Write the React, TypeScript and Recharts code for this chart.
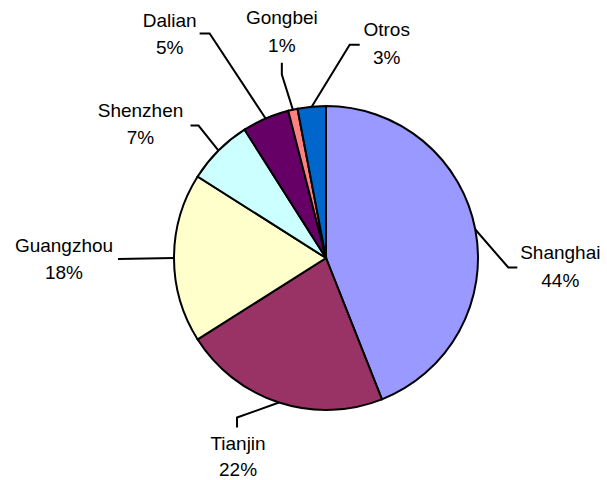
import { PieChart, Pie, Cell } from 'recharts';

// cuota por puerto, en %, en sentido horario desde las 12
const PORTS = ['Shanghai', 'Tianjin', 'Guangzhou', 'Shenzhen', 'Dalian', 'Gongbei', 'Otros'];
const SHARES = [44, 22, 18, 7, 5, 1, 3];

const COLORS = ['#9999ff', '#993366', '#ffffcc', '#ccffff', '#660066', '#ff8080', '#0066cc'];

// leader line: elbow, end and label centre, relative to where the slice edge is
const LEADERS = [
  { elbow: [33, 38], end: [42, 38], text: [85, 23], gap: 28 },
  { elbow: [-42, 15], end: [-42, 25], text: [-41, 41], gap: 26 },
  { elbow: [-56, 1], end: [-56, 1], text: [-110, -13], gap: 27 },
  { elbow: [-20, -25], end: [-28, -25], text: [-78, -40], gap: 27 },
  { elbow: [-56, -85], end: [-66, -85], text: [-96, -98], gap: 27 },
  { elbow: [-11, -35], end: [-11, -47], text: [-11, -92], gap: 28 },
  { elbow: [38, -62], end: [48, -62], text: [75, -77], gap: 28 },
];

const data = PORTS.map((name, i) => ({ name, value: SHARES[i] }));

const RADIAN = Math.PI / 180;
const FONT = '"Liberation Sans", Arial, sans-serif';

function renderLabel(props: any) {
  const { cx, cy, midAngle, outerRadius, index, name, value } = props;
  const ex = cx + outerRadius * Math.cos(-midAngle * RADIAN);
  const ey = cy + outerRadius * Math.sin(-midAngle * RADIAN);
  const l = LEADERS[index];
  const tx = ex + l.text[0];
  const ty = ey + l.text[1];
  return (
    <g key={`lbl-${index}`}>
      <polyline
        points={`${ex},${ey} ${ex + l.elbow[0]},${ey + l.elbow[1]} ${ex + l.end[0]},${ey + l.end[1]}`}
        fill="none"
        stroke="#000"
        strokeWidth={2}
      />
      <text x={tx} y={ty} textAnchor="middle" dominantBaseline="central" fontFamily={FONT} fontSize={19} fill="#000">
        {name}
      </text>
      <text x={tx} y={ty + l.gap} textAnchor="middle" dominantBaseline="central" fontFamily={FONT} fontSize={19} fill="#000">
        {`${value}%`}
      </text>
    </g>
  );
}

export default function App() {
  return (
    <div style={{ position: 'absolute', left: 0, top: 0, width: 607, height: 480, background: '#fff' }}>
      <PieChart width={607} height={480} margin={{ top: 0, right: 0, bottom: 0, left: 0 }}>
        <Pie
          data={data}
          dataKey="value"
          nameKey="name"
          cx={326}
          cy={258}
          outerRadius={152}
          startAngle={90}
          endAngle={-270}
          stroke="#000"
          strokeWidth={2}
          label={renderLabel}
          labelLine={false}
          isAnimationActive={false}
        >
          {data.map((d, i) => (
            <Cell key={d.name} fill={COLORS[i]} />
          ))}
        </Pie>
      </PieChart>
    </div>
  );
}
